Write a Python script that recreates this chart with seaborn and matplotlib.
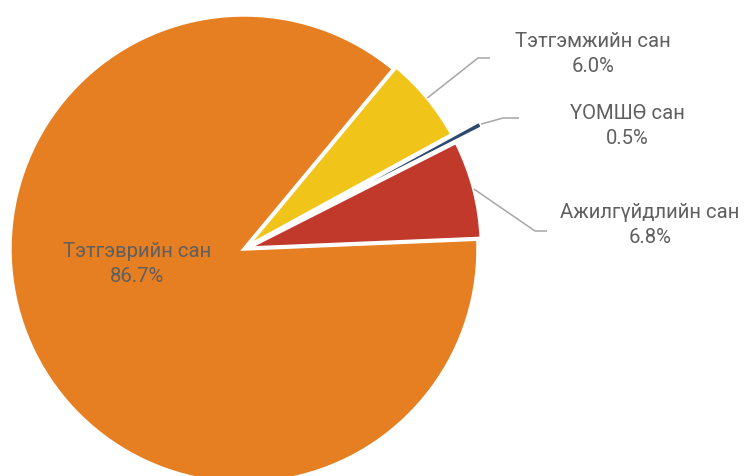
import numpy as np
import matplotlib
matplotlib.use("Agg")
import matplotlib.pyplot as plt
import seaborn as sns

labels = ["Ажилгүйдлийн сан", "ҮОМШӨ сан", "Тэтгэмжийн сан", "Тэтгэврийн сан"]
shares = [6.8, 0.5, 6.0, 86.7]
colors = ["#C0392B", "#2C4A6B", "#F0C419", "#E67E22"]

sns.set_theme(style="white")
plt.rcParams["font.family"] = ["Roboto", "DejaVu Sans"]

W, H, DPI = 745, 477, 100
fig = plt.figure(figsize=(W / DPI, H / DPI), dpi=DPI)
ax = fig.add_axes([0, 0, 1, 1])

R_PX = 234.0
CX, CY = 244.0, 250.0


def px(x, y):
    return ((x - CX) / R_PX, (CY - y) / R_PX)


explode = [0.015, 0.145, 0.015, 0.0]
wedges, _ = ax.pie(
    shares,
    colors=colors,
    startangle=2.4,
    counterclock=True,
    explode=explode,
    radius=1.0,
    wedgeprops=dict(edgecolor="white", linewidth=2.5),
)

ax.set_xlim(-CX / R_PX, (W - CX) / R_PX)
ax.set_ylim(-(H - CY) / R_PX, CY / R_PX)
ax.set_aspect("equal", adjustable="box")
ax.axis("off")

text_color = "#5F5F5F"
line_color = "#A6A6A6"
fs = 14.6
fw = "normal"
ls = 1.4

# inside label for the large slice
tx, ty = px(137, 264)
ax.text(tx, ty, f"{labels[3]}\n{shares[3]:.1f}%", ha="center", va="center",
        fontsize=fs, color=text_color, linespacing=ls, fontweight=fw)

# outside labels with leader lines
outside = {
    0: dict(elbow=[(535, 232), (547, 232)], text=(650, 225)),
    1: dict(elbow=[(503, 119), (519, 119)], text=(627, 126)),
    2: dict(elbow=[(478, 59), (490, 59)], text=(593, 54)),
}
for i, cfg in outside.items():
    w = wedges[i]
    mid = np.deg2rad((w.theta1 + w.theta2) / 2)
    r = 1.0 + explode[i]
    sx, sy = r * np.cos(mid), r * np.sin(mid)
    pts = [(sx, sy)] + [px(*p) for p in cfg["elbow"]]
    xs, ys = zip(*pts)
    ax.plot(xs, ys, color=line_color, lw=1.1, solid_capstyle="butt")
    tx, ty = px(*cfg["text"])
    ax.text(tx, ty, f"{labels[i]}\n{shares[i]:.1f}%", ha="center", va="center",
            fontsize=fs, color=text_color, linespacing=ls, fontweight=fw)

fig.savefig("out.png", dpi=DPI)
